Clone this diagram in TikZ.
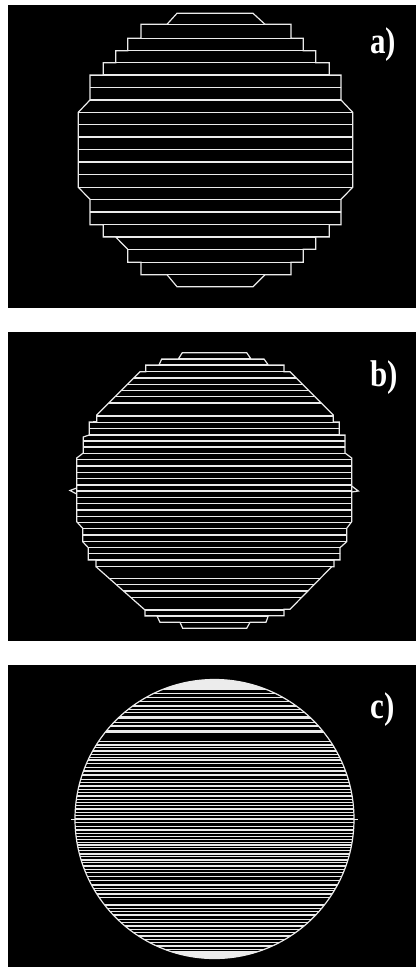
\documentclass[tikz,border=0pt]{standalone}
\usepackage{fontspec}
\setmainfont{Liberation Serif}
\usetikzlibrary{positioning}
\definecolor{trace}{gray}{0.92}

\tikzset{
  panel/.style={fill=black},
  slice/.style={draw=trace, line width=1.2pt, line join=miter},
  band/.style={draw=trace, line width=3pt},
  polecap/.style={fill=trace!95!white},
  tag/.style={text=white, font=\bfseries\fontsize{31}{32}\selectfont, inner sep=0pt, anchor=base}
}

\begin{document}
\begin{tikzpicture}[x=1pt, y=-1pt]
  \useasboundingbox[fill=white] (0,0) rectangle (416,967);

  % Panel a: coarse staircase
  \fill[panel] (8,5) rectangle (416,308);
  \begin{scope}
    \clip (177,13.3) -- (253,13.3) -- (265,24.3) -- (291,24.3) -- (291,38.3) -- (303.3,38.3) -- (303.3,50.7) -- (315.7,50.7) -- (315.7,62.7) -- (329.3,62.7) -- (329.3,75) -- (341,75) -- (341,100) -- (352.7,112.3) -- (352.7,187.3) -- (341,199.3) -- (341,224.7) -- (329.3,224.7) -- (329.3,237) -- (315.7,237) -- (315.7,249.3) -- (303.3,249.3) -- (303.3,262.3) -- (291,262.3) -- (291,274.7) -- (265,274.7) -- (253,286.7) -- (177,286.7) -- (167,274.7) -- (141,274.7) -- (141,262.3) -- (127.7,262.3) -- (127.7,249.3) -- (115.7,237) -- (103.3,237) -- (103.3,224.7) -- (90,224.7) -- (90,199.3) -- (78.3,187.3) -- (78.3,112.3) -- (90,100) -- (90,75) -- (103.3,75) -- (103.3,62.7) -- (115.7,62.7) -- (115.7,50.7) -- (127.7,50.7) -- (127.7,38.3) -- (141,38.3) -- (141,24.3) -- (167,24.3) -- cycle;
    \foreach \y in {24.3,38.3,50.7,62.7,75,87.3,100,112.3,124.3,137,149.3,162,174.3,187.3,199.3,212,224.7,237,249.3,262.3,274.7}
      \draw[slice] (0,\y) -- (416,\y);
  \end{scope}
  \draw[slice] (177,13.3) -- (253,13.3) -- (265,24.3) -- (291,24.3) -- (291,38.3) -- (303.3,38.3) -- (303.3,50.7) -- (315.7,50.7) -- (315.7,62.7) -- (329.3,62.7) -- (329.3,75) -- (341,75) -- (341,100) -- (352.7,112.3) -- (352.7,187.3) -- (341,199.3) -- (341,224.7) -- (329.3,224.7) -- (329.3,237) -- (315.7,237) -- (315.7,249.3) -- (303.3,249.3) -- (303.3,262.3) -- (291,262.3) -- (291,274.7) -- (265,274.7) -- (253,286.7) -- (177,286.7) -- (167,274.7) -- (141,274.7) -- (141,262.3) -- (127.7,262.3) -- (127.7,249.3) -- (115.7,237) -- (103.3,237) -- (103.3,224.7) -- (90,224.7) -- (90,199.3) -- (78.3,187.3) -- (78.3,112.3) -- (90,100) -- (90,75) -- (103.3,75) -- (103.3,62.7) -- (115.7,62.7) -- (115.7,50.7) -- (127.7,50.7) -- (127.7,38.3) -- (141,38.3) -- (141,24.3) -- (167,24.3) -- cycle;
  \node[tag] (taga) at (383,53.3) {\scalebox{1}[1.2]{a)}};

  % Panel b: finer staircase
  \fill[panel] (8,332) rectangle (416,641);
  \begin{scope}
    \clip (182.3,352.7) -- (246.7,352.7) -- (251,359) -- (264,359) -- (268.3,365) -- (284,365) -- (284,371.7) -- (290,371.7) -- (333.3,415) -- (333.3,422) -- (339.3,422) -- (339.3,435) -- (345,435) -- (345,453) -- (351.7,458) -- (351.7,521.7) -- (346.7,528.3) -- (346.7,541.7) -- (340,547.7) -- (340,560) -- (334,560) -- (334,566.7) -- (331.7,566.7) -- (290,609.3) -- (284,609.3) -- (284,615.7) -- (268.3,615.7) -- (266,622.3) -- (250,622.3) -- (246.7,628.3) -- (182.7,628.3) -- (180,622.3) -- (160,622.3) -- (157,616) -- (145,616) -- (145,610) -- (96,566.7) -- (96,560) -- (88.3,560) -- (88.3,547.7) -- (82.7,541.7) -- (82.7,528.3) -- (76.7,521.7) -- (76.7,458) -- (83.3,453) -- (83.3,437) -- (89.3,435) -- (89.3,422) -- (96.7,421.7) -- (96.7,415) -- (140,371.7) -- (145.7,371.7) -- (145.7,365) -- (159,365) -- (161.7,359) -- (178.3,359) -- cycle;
    \foreach \y in {359,365,371.7,378,384.3,390.5,396.7,403,416,422.3,428.5,435,441,447,453.3,459.7,466,472.3,478.5,485,491,497.5,503.5,510,516.3,522.5,528.5,535,541.3,547.5,553.7,560,566.5,578.3,584.5,591,597.5,610,616,622.3}
      \draw[slice] (0,\y) -- (416,\y);
  \end{scope}
  \draw[slice] (182.3,352.7) -- (246.7,352.7) -- (251,359) -- (264,359) -- (268.3,365) -- (284,365) -- (284,371.7) -- (290,371.7) -- (333.3,415) -- (333.3,422) -- (339.3,422) -- (339.3,435) -- (345,435) -- (345,453) -- (351.7,458) -- (351.7,521.7) -- (346.7,528.3) -- (346.7,541.7) -- (340,547.7) -- (340,560) -- (334,560) -- (334,566.7) -- (331.7,566.7) -- (290,609.3) -- (284,609.3) -- (284,615.7) -- (268.3,615.7) -- (266,622.3) -- (250,622.3) -- (246.7,628.3) -- (182.7,628.3) -- (180,622.3) -- (160,622.3) -- (157,616) -- (145,616) -- (145,610) -- (96,566.7) -- (96,560) -- (88.3,560) -- (88.3,547.7) -- (82.7,541.7) -- (82.7,528.3) -- (76.7,521.7) -- (76.7,458) -- (83.3,453) -- (83.3,437) -- (89.3,435) -- (89.3,422) -- (96.7,421.7) -- (96.7,415) -- (140,371.7) -- (145.7,371.7) -- (145.7,365) -- (159,365) -- (161.7,359) -- (178.3,359) -- cycle;
  \draw[slice] (76.7,488) -- (70,490.5) -- (76.7,494);
  \draw[slice] (351.7,486) -- (358.3,491) -- (351.7,492);
  \node[tag] (tagb) at (384,386.7) {\scalebox{1}[1.2]{b)}};

  % Panel c: smooth circle
  \fill[panel] (8,665) rectangle (416,967);
  \begin{scope}
    \clip (214.5,819) circle (139.5pt);
    \fill[polecap] (0,678) rectangle (416,690);
    \fill[polecap] (0,950.5) rectangle (416,960);
    \foreach \y in {693.3,697.3,701.7,706,709.3,712.7,722.7,726,741.7,745,747.7,751,754.3,757.3,760,763.3,767.3,771,775,779.3,782.7,786,789.3,792.7,796,799.3,802.7,805.7,809,812.3,815.7,819,822.3,826.7,830,833.3,836.7,839.3,842.3,845,847.7,850.7,854,856.7,860,862.7,866,869.3,872.7,876.7,880.7,885,888.3,890.7,894,897.3,905,908.3,911.7,915,919.3,922.7,926,929.3,932.7,936,939.3,942.7,946,949.3}
      \draw[slice] (0,\y) -- (416,\y);
    \foreach \y in {717.7,731.3}
      \draw[band] (0,\y) -- (416,\y);
  \end{scope}
  \draw[slice] (214.5,819) circle (139.5pt);
  \draw[slice] (71,819.5) -- (76,819.5);
  \draw[slice] (353,819.5) -- (358.3,819.5);
  \node[tag] (tagc) at (383,718.3) {\scalebox{1}[1.2]{c)}};
\end{tikzpicture}
\end{document}
